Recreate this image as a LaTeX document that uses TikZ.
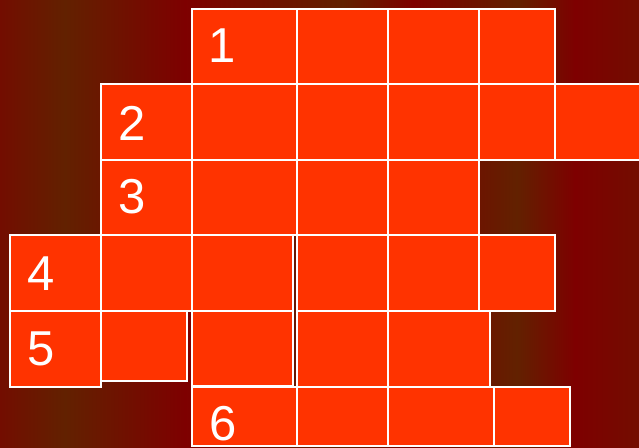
\documentclass[tikz,border=0pt]{standalone}
\usepackage{fontspec}
\setmainfont{Liberation Sans}
\definecolor{bgedge}{RGB}{115,13,0}
\definecolor{bgbrown}{RGB}{98,33,0}
\definecolor{bgred}{RGB}{126,0,0}
\definecolor{cellred}{RGB}{255,51,0}

\tikzset{
  square/.style={draw=white, fill=cellred, line width=1.3pt},
  num/.style={text=white, font=\fontsize{49}{49}\selectfont, inner sep=0pt}
}

\begin{document}
\begin{tikzpicture}[x=1pt,y=-1pt]
\useasboundingbox (0,0) rectangle (639,447);
% Background bands
\foreach \xa/\xb/\ca/\cb in {0/65/bgedge/bgbrown, 65/185/bgbrown/bgred,
    185/343/bgred/bgbrown, 343/413/bgbrown/bgred, 413/517/bgred/bgbrown,
    517/575/bgbrown/bgred, 575/639/bgred/bgedge} {
  \shade[left color=\ca, right color=\cb] (\xa-0.5,0) rectangle (\xb+0.5,447);
}

% Squares, row by row
\foreach \xa/\ya/\xb/\yb in {
    192/9/297/84, 297/9/388/84, 388/9/479/84, 479/9/555/84,
    101/84/192/160, 192/84/297/160, 297/84/388/160, 388/84/479/160, 479/84/555/160, 555/84/645/160,
    101/160/192/235, 192/160/297/235, 297/160/388/235, 388/160/479/235,
    10/235/101/311, 101/235/192/311, 192/235/293/311, 297/235/388/311, 388/235/479/311, 479/235/555/311,
    10/311/101/387, 101/311/187/381, 192/311/293/386, 297/311/388/387, 388/311/490/387,
    192/387/297/446, 297/387/388/446, 388/387/494/446, 494/387/570/446} {
  \draw[square] (\xa,\ya) rectangle (\xb,\yb);
}

% Row numbers
\node[num] (n1) at (222,46) {1};
\node[num] (n2) at (132,123) {2};
\node[num] (n3) at (132,197) {3};
\node[num] (n4) at (41,274) {4};
\node[num] (n5) at (41,349) {5};
\node[num] (n6) at (223,424) {6};
\end{tikzpicture}
\end{document}
